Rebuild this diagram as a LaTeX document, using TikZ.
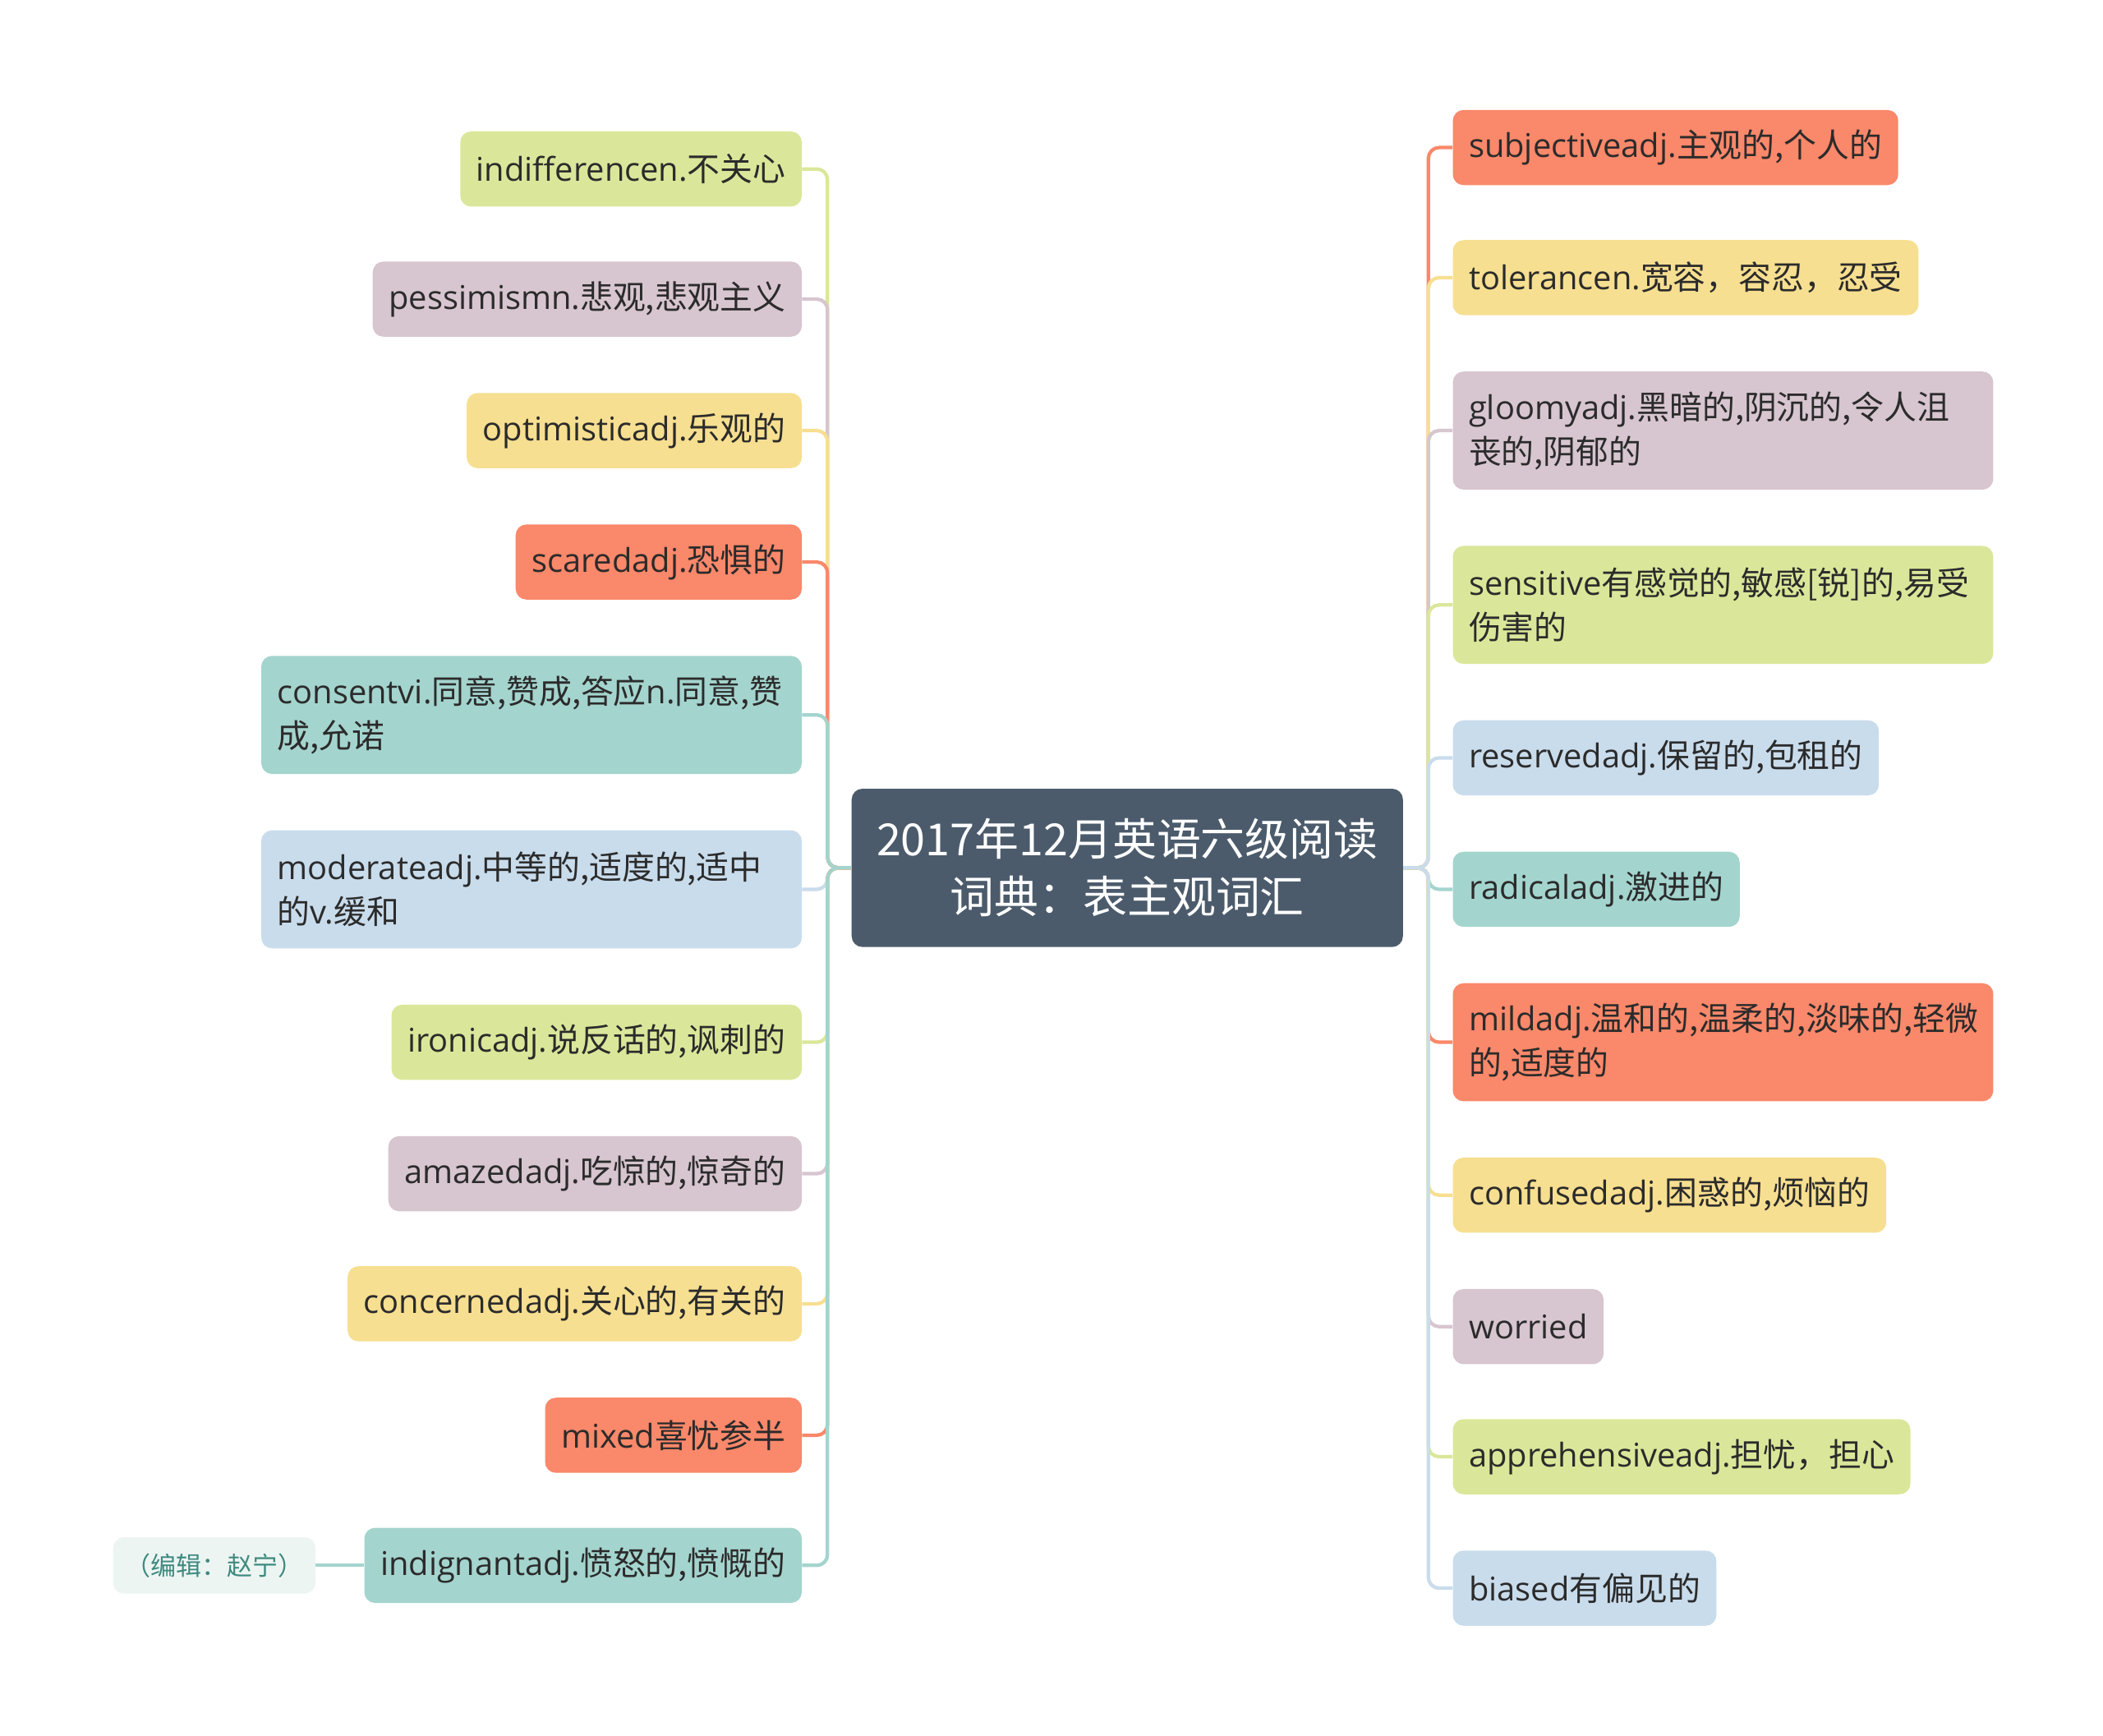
\documentclass[tikz,border=0pt]{standalone}
\usepackage{fontspec}
\setmainfont{Noto Sans CJK SC}
\newfontfamily\en{Open Sans}
\usepackage{tikz}
\usepackage{xcolor}
\usetikzlibrary{positioning}

\definecolor{cred}{HTML}{FA886A}
\definecolor{cyellow}{HTML}{F7DF91}
\definecolor{cgreen}{HTML}{DAE79A}
\definecolor{cpurple}{HTML}{D7C5CF}
\definecolor{cteal}{HTML}{A4D4CE}
\definecolor{cblue}{HTML}{C9DCEC}
\definecolor{rootcol}{HTML}{4B5B6B}
\definecolor{notecol}{HTML}{EDF5F3}
\definecolor{notetext}{HTML}{3F8A7E}
\definecolor{txt}{HTML}{2B2B2B}

\tikzset{
  leaf/.style={rounded corners=8pt, fill=#1, text=txt, inner xsep=12pt, inner ysep=0pt,
    minimum height=56pt, align=left, font=\fontsize{24.4}{33}\selectfont},
  twoline/.style={minimum height=88pt, text width=379pt},
  lleaf/.style={leaf=#1, anchor=east},
  rleaf/.style={leaf=#1, anchor=west},
  root/.style={rounded corners=8pt, fill=rootcol, text=white, minimum width=411pt,
    minimum height=118pt, align=center, font=\fontsize{33}{43}\selectfont},
  note/.style={rounded corners=8pt, fill=notecol, text=notetext, minimum width=151pt,
    minimum height=42pt, font=\fontsize{19}{22}\selectfont},
  branch/.style={draw=#1, line width=2.6pt, rounded corners=8pt}
}

\begin{document}
\begin{tikzpicture}[x=1pt, y=-1pt]
\useasboundingbox (0,0) rectangle (1568,1294.2);

\node[root] (root) at (840.5,647) {2017年12月英语六级阅读\\词典：表主观词汇};
\coordinate (lhub) at (617,647);
\coordinate (rhub) at (1065,647);

% left side
\node[lleaf=cgreen] (indiff) at (598,126) {{\en indifferencen.}不关心};
\node[lleaf=cpurple] (pessim) at (598,223) {{\en pessimismn.}悲观,悲观主义};
\node[lleaf=cyellow] (optim) at (598,321) {{\en optimisticadj.}乐观的};
\node[lleaf=cred] (scared) at (598,419) {{\en scaredadj.}恐惧的};
\node[lleaf=cteal, twoline] (consent) at (598,533) {{\en consentvi.}同意,赞成,答应{\en n.}同意,赞\\成,允诺};
\node[lleaf=cblue, twoline] (moder) at (598,663) {{\en moderateadj.}中等的,适度的,适中\\的{\en v.}缓和};
\node[lleaf=cgreen] (ironic) at (598,777) {{\en ironicadj.}说反话的,讽刺的};
\node[lleaf=cpurple] (amazed) at (598,875) {{\en amazedadj.}吃惊的,惊奇的};
\node[lleaf=cyellow] (concern) at (598,972) {{\en concernedadj.}关心的,有关的};
\node[lleaf=cred] (mixed) at (598,1070) {{\en mixed}喜忧参半};
\node[lleaf=cteal] (indig) at (598,1167) {{\en indignantadj.}愤怒的,愤慨的};
\node[note, left=36pt of indig] (note) {（编辑：赵宁）};

% right side
\node[rleaf=cred] (subj) at (1083,110) {{\en subjectiveadj.}主观的,个人的};
\node[rleaf=cyellow] (toler) at (1083,207) {{\en tolerancen.}宽容，容忍，忍受};
\node[rleaf=cpurple, twoline] (gloomy) at (1083,321) {{\en gloomyadj.}黑暗的,阴沉的,令人沮\\丧的,阴郁的};
\node[rleaf=cgreen, twoline] (sensit) at (1083,451) {{\en sensitive}有感觉的,敏感[锐]的,易受\\伤害的};
\node[rleaf=cblue] (reserv) at (1083,565) {{\en reservedadj.}保留的,包租的};
\node[rleaf=cteal] (radical) at (1083,663) {{\en radicaladj.}激进的};
\node[rleaf=cred, twoline] (mild) at (1083,777) {{\en mildadj.}温和的,温柔的,淡味的,轻微\\的,适度的};
\node[rleaf=cyellow] (confus) at (1083,891) {{\en confusedadj.}困惑的,烦恼的};
\node[rleaf=cpurple] (worried) at (1083,989) {{\en worried}};
\node[rleaf=cgreen] (apprehen) at (1083,1086) {{\en apprehensiveadj.}担忧，担心};
\node[rleaf=cblue] (biased) at (1083,1184) {{\en biased}有偏见的};

% connectors, top to bottom
\draw[branch=cgreen] (root.west) -- (lhub) |- (indiff.east);
\draw[branch=cpurple] (root.west) -- (lhub) |- (pessim.east);
\draw[branch=cyellow] (root.west) -- (lhub) |- (optim.east);
\draw[branch=cred] (root.west) -- (lhub) |- (scared.east);
\draw[branch=cteal] (root.west) -- (lhub) |- (consent.east);
\draw[branch=cblue] (root.west) -- (lhub) |- (moder.east);
\draw[branch=cgreen] (root.west) -- (lhub) |- (ironic.east);
\draw[branch=cpurple] (root.west) -- (lhub) |- (amazed.east);
\draw[branch=cyellow] (root.west) -- (lhub) |- (concern.east);
\draw[branch=cred] (root.west) -- (lhub) |- (mixed.east);
\draw[branch=cteal] (root.west) -- (lhub) |- (indig.east);
\draw[branch=cteal] (indig.west) -- (note.east);

\draw[branch=cred] (root.east) -- (rhub) |- (subj.west);
\draw[branch=cyellow] (root.east) -- (rhub) |- (toler.west);
\draw[branch=cpurple] (root.east) -- (rhub) |- (gloomy.west);
\draw[branch=cgreen] (root.east) -- (rhub) |- (sensit.west);
\draw[branch=cblue] (root.east) -- (rhub) |- (reserv.west);
\draw[branch=cteal] (root.east) -- (rhub) |- (radical.west);
\draw[branch=cred] (root.east) -- (rhub) |- (mild.west);
\draw[branch=cyellow] (root.east) -- (rhub) |- (confus.west);
\draw[branch=cpurple] (root.east) -- (rhub) |- (worried.west);
\draw[branch=cgreen] (root.east) -- (rhub) |- (apprehen.west);
\draw[branch=cblue] (root.east) -- (rhub) |- (biased.west);
\end{tikzpicture}
\end{document}
